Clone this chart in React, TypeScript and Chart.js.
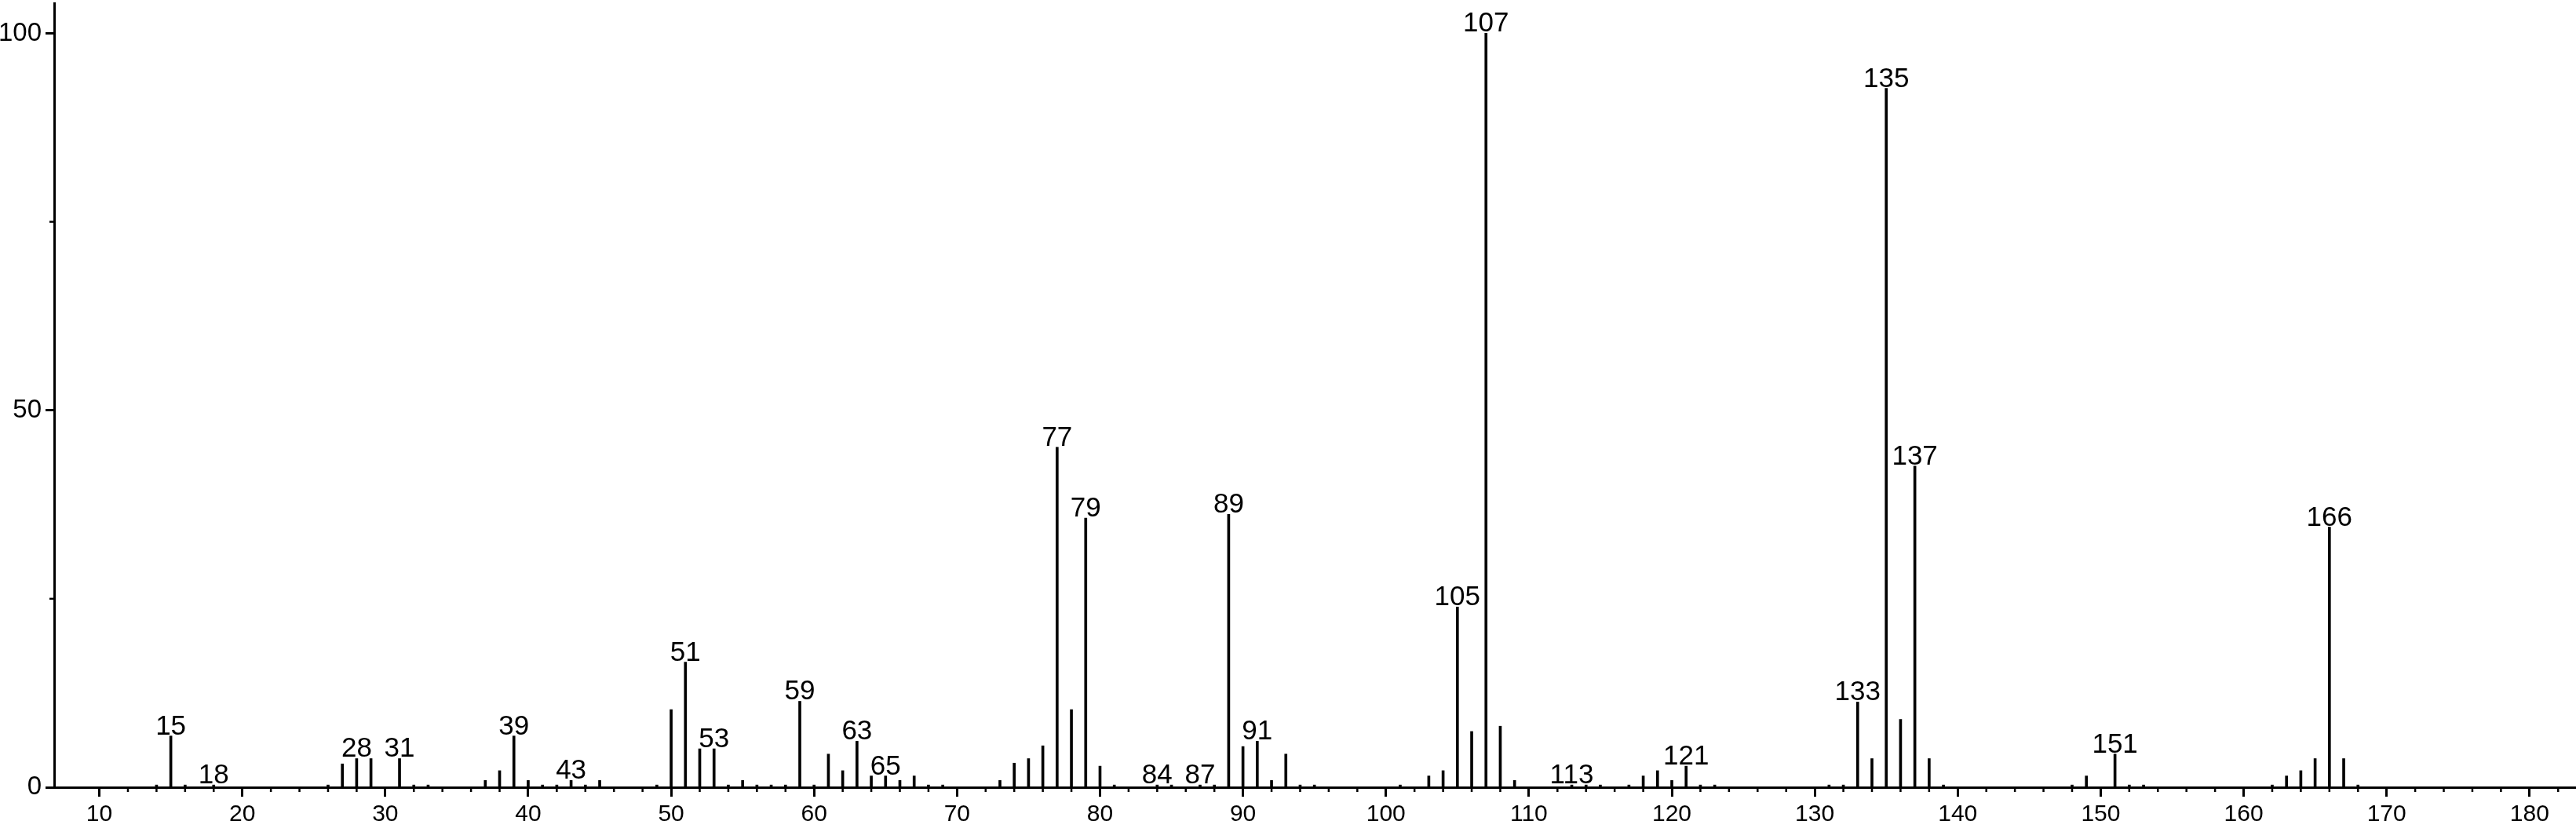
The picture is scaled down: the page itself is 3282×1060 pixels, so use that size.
import { useEffect, useRef } from "react";
import { Chart, registerables } from "chart.js";

Chart.register(...registerables);

// m/z values and relative intensities (%)
const masses = [
  14, 15, 16, 18, 26, 27, 28, 29, 31, 32, 33, 37, 38, 39, 40, 41, 42, 43, 44, 45,
  49, 50, 51, 52, 53, 54, 55, 56, 57, 58, 59, 60, 61, 62, 63, 64, 65, 66, 67, 68,
  69, 73, 74, 75, 76, 77, 78, 79, 80, 81, 84, 85, 87, 88, 89, 90, 91, 92, 93, 94,
  95, 101, 103, 104, 105, 106, 107, 108, 109, 113, 114, 115, 117, 118, 119, 120, 121, 122, 123, 131,
  132, 133, 134, 135, 136, 137, 138, 139, 148, 149, 151, 152, 153, 162, 163, 164, 165, 166, 167, 168,
];
const intensities = [
  0.3, 6.8, 0.3, 0.3, 0.3, 3.1, 3.8, 3.8, 3.8, 0.3, 0.3, 0.9, 2.2, 6.8, 0.9, 0.3, 0.3, 0.9, 0.3, 0.9,
  0.3, 10.3, 16.6, 5.1, 5.1, 0.3, 0.9, 0.3, 0.3, 0.3, 11.4, 0.3, 4.4, 2.2, 6.1, 1.5, 1.5, 0.9, 1.5, 0.3,
  0.3, 0.9, 3.2, 3.8, 5.5, 45.1, 10.3, 35.7, 2.8, 0.3, 0.3, 0.3, 0.3, 0.3, 36.2, 5.4, 6.1, 0.9, 4.4, 0.3,
  0.3, 0.3, 1.5, 2.2, 23.9, 7.4, 100, 8.1, 0.9, 0.3, 0.3, 0.3, 0.3, 1.5, 2.2, 0.9, 2.8, 0.3, 0.3, 0.3,
  0.3, 11.3, 3.8, 92.7, 9.0, 42.6, 3.8, 0.3, 0.3, 1.5, 4.4, 0.3, 0.3, 0.3, 1.5, 2.2, 3.8, 34.5, 3.8, 0.3,
];
const labeledMasses = [
  15, 18, 28, 31, 39, 43, 51, 53, 59, 63, 65, 77, 79, 84, 87, 89, 91, 105, 107, 113, 121, 133, 135, 137, 151, 166,
];
const yMinorTicks = [25, 75];
const xMinorTicks = [
  12, 14, 16, 18, 22, 24, 26, 28, 32, 34, 36, 38, 42, 44, 46, 48, 52, 54, 56, 58,
  62, 64, 66, 68, 72, 74, 76, 78, 82, 84, 86, 88, 92, 94, 96, 98, 102, 104, 106, 108,
  112, 114, 116, 118, 122, 124, 126, 128, 132, 134, 136, 138, 142, 144, 146, 148, 152, 154, 156, 158,
  162, 164, 166, 168, 172, 174, 176, 178, 182,
];

const FONT = '"Liberation Sans", Arial, Helvetica, sans-serif';

const extrasPlugin = {
  id: "spectrumExtras",
  afterDraw(chart: any) {
    const ctx = chart.ctx as CanvasRenderingContext2D;
    const xs = chart.scales.x;
    const ys = chart.scales.y;
    ctx.save();
    ctx.strokeStyle = "#000";
    ctx.lineWidth = 2.5;
    xMinorTicks.forEach((v) => {
      const px = xs.getPixelForValue(v);
      ctx.beginPath();
      ctx.moveTo(px, ys.bottom);
      ctx.lineTo(px, ys.bottom + 6);
      ctx.stroke();
    });
    yMinorTicks.forEach((v) => {
      const py = ys.getPixelForValue(v);
      ctx.beginPath();
      ctx.moveTo(xs.left - 6, py);
      ctx.lineTo(xs.left, py);
      ctx.stroke();
    });
    // peak labels
    const meta = chart.getDatasetMeta(0);
    ctx.fillStyle = "#000";
    ctx.font = `35px ${FONT}`;
    ctx.textAlign = "center";
    ctx.textBaseline = "alphabetic";
    labeledMasses.forEach((m) => {
      const i = masses.indexOf(m);
      const el = meta.data[i];
      if (!el) return;
      ctx.fillText(String(m), el.x, el.y - 2);
    });
    ctx.restore();
  },
};

export default function App() {
  const ref = useRef<HTMLCanvasElement | null>(null);
  useEffect(() => {
    document.body.style.margin = "0";
    document.body.style.background = "#fff";
    const canvas = ref.current;
    if (!canvas) return;
    const chart = new Chart(canvas, {
      type: "bar",
      data: {
        datasets: [
          {
            data: masses.map((m, i) => ({ x: m, y: intensities[i] })),
            backgroundColor: "#000",
            borderWidth: 0,
            barThickness: 3,
            grouped: false,
          } as any,
        ],
      },
      options: {
        responsive: false,
        animation: false,
        devicePixelRatio: 1,
        layout: { padding: { top: 4, right: 0, left: 0, bottom: 0 } },
        plugins: {
          legend: { display: false },
          tooltip: { enabled: false },
        },
        scales: {
          x: {
            type: "linear",
            min: 6.84,
            max: 183.25,
            offset: false,
            ticks: {
              stepSize: 10,
              includeBounds: false,
              autoSkip: false,
              maxRotation: 0,
              color: "#000",
              padding: 5,
              font: { size: 30, family: FONT },
            },
            grid: {
              offset: false,
              drawOnChartArea: false,
              drawTicks: true,
              tickLength: 12,
              tickWidth: 3,
              tickColor: "#000",
            },
            border: { display: true, color: "#000", width: 3 },
            afterFit: (s: any) => {
              s.height = 57;
              s.paddingLeft = 0;
              s.paddingRight = 0;
            },
          },
          y: {
            min: 0,
            max: 104,
            ticks: {
              stepSize: 50,
              includeBounds: false,
              color: "#000",
              padding: 5,
              font: { size: 33, family: FONT },
            },
            grid: {
              drawOnChartArea: false,
              drawTicks: true,
              tickLength: 11,
              tickWidth: 3,
              tickColor: "#000",
            },
            border: { display: true, color: "#000", width: 3 },
            afterFit: (s: any) => {
              s.width = 69;
              s.paddingTop = 0;
              s.paddingBottom = 0;
            },
          },
        },
      } as any,
      plugins: [extrasPlugin],
    });
    return () => chart.destroy();
  }, []);
  return (
    <canvas
      ref={ref}
      width={3282}
      height={1060}
      style={{ display: "block", width: 3282, height: 1060 }}
    />
  );
}
